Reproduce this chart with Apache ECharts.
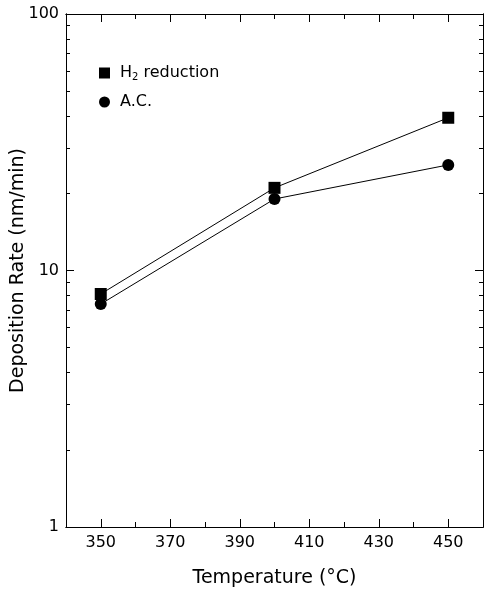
<!DOCTYPE html>
<html><head><meta charset="utf-8">
<script src="https://cdn.jsdelivr.net/npm/echarts@6/dist/echarts.min.js"></script>
<style>html,body{margin:0;padding:0;background:#fff}#c{width:485px;height:597px}</style>
</head><body><div id="c"></div>
<script>
const temps = [350, 400, 450];
const h2Reduction = [8.1, 21.0, 39.4];
const acValues = [7.4, 19.0, 25.8];
const xLabelValues = [350, 370, 390, 410, 430, 450];
const xMinorValues = [360, 380, 400, 420, 440];
const yLabelValues = [1, 10, 100];
const yMinorValues = [2,3,4,5,6,7,8,9,20,30,40,50,60,70,80,90];

const FONT = 'DejaVu Sans';
const chart = echarts.init(document.getElementById('c'));
const baseX = {type:'value', min:340, max:460, splitLine:{show:false},
  axisLine:{show:true, onZero:false, lineStyle:{color:'#000', width:1}}};
const baseY = {type:'log', logBase:10, min:1, max:100, splitLine:{show:false},
  axisLine:{show:true, onZero:false, lineStyle:{color:'#000', width:1}}};
chart.setOption({
  animation:false,
  grid:{left:66, right:2, top:14, bottom:70, containLabel:false, outerBoundsMode:'none'},
  xAxis:[
    Object.assign({}, baseX, {position:'bottom', name:'Temperature (°C)', nameLocation:'middle', nameGap:42, nameMoveOverlap:false,
      nameTextStyle:{fontFamily:FONT, fontSize:19, color:'#000'},
      axisTick:{show:true, inside:true, length:8, customValues:xLabelValues, lineStyle:{color:'#000'}},
      axisLabel:{show:true, customValues:xLabelValues, fontFamily:FONT, fontSize:16, color:'#000', margin:8}}),
    Object.assign({}, baseX, {position:'bottom', axisTick:{show:true, inside:true, length:5, customValues:xMinorValues, lineStyle:{color:'#000'}}, axisLabel:{show:false}}),
    Object.assign({}, baseX, {position:'top', axisTick:{show:true, inside:true, length:8, customValues:xLabelValues, lineStyle:{color:'#000'}}, axisLabel:{show:false}}),
    Object.assign({}, baseX, {position:'top', axisTick:{show:true, inside:true, length:5, customValues:xMinorValues, lineStyle:{color:'#000'}}, axisLabel:{show:false}})
  ],
  yAxis:[
    Object.assign({}, baseY, {position:'left', name:'Deposition Rate (nm/min)', nameLocation:'middle', nameGap:38, nameMoveOverlap:false,
      nameTextStyle:{fontFamily:FONT, fontSize:19, color:'#000'},
      axisTick:{show:true, inside:true, length:8, customValues:yLabelValues, lineStyle:{color:'#000'}},
      axisLabel:{show:true, customValues:yLabelValues, fontFamily:FONT, fontSize:16, color:'#000', margin:7}}),
    Object.assign({}, baseY, {position:'left', axisTick:{show:true, inside:true, length:4, customValues:yMinorValues, lineStyle:{color:'#000'}}, axisLabel:{show:false}}),
    Object.assign({}, baseY, {position:'right', axisTick:{show:true, inside:true, length:8, customValues:yLabelValues, lineStyle:{color:'#000'}}, axisLabel:{show:false}}),
    Object.assign({}, baseY, {position:'right', axisTick:{show:true, inside:true, length:4, customValues:yMinorValues, lineStyle:{color:'#000'}}, axisLabel:{show:false}})
  ],
  legend:{left:94, top:60, orient:'vertical', itemGap:12, itemWidth:11, itemHeight:11,
    textStyle:{fontFamily:FONT, fontSize:16, color:'#000', padding:[0,0,0,5], rich:{sub:{fontSize:10, verticalAlign:'bottom', padding:[8,0,0,0], fontFamily:FONT}}},
    formatter:function(n){ return n==='H2 reduction' ? 'H{sub|2} reduction' : n; },
    data:[{name:'H2 reduction', icon:'rect'},{name:'A.C.', icon:'circle'}]},
  series:[
    {name:'H2 reduction', type:'line', xAxisIndex:0, yAxisIndex:0, data:temps.map((t,i)=>[t,h2Reduction[i]]),
      symbol:'rect', symbolSize:12, itemStyle:{color:'#000'}, lineStyle:{color:'#000', width:1}},
    {name:'A.C.', type:'line', xAxisIndex:0, yAxisIndex:0, data:temps.map((t,i)=>[t,acValues[i]]),
      symbol:'circle', symbolSize:12, itemStyle:{color:'#000'}, lineStyle:{color:'#000', width:1}}
  ]
});
</script></body></html>
